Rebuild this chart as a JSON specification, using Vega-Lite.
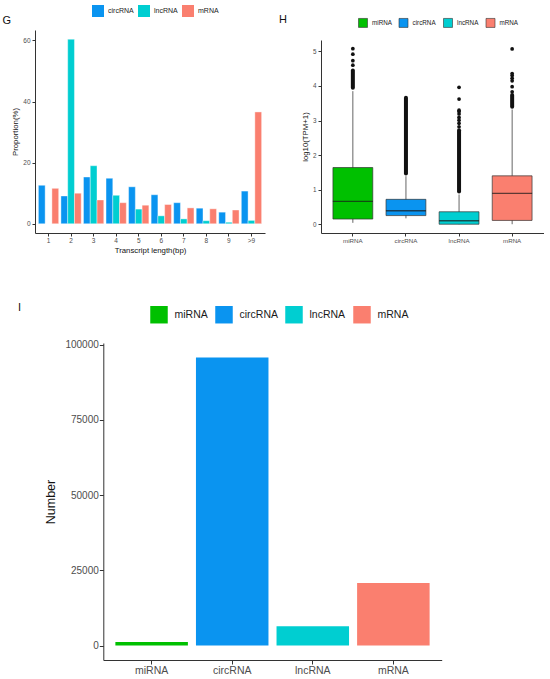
{
  "$schema": "https://vega.github.io/schema/vega-lite/v6.json",
  "padding": {"left": 2, "top": 5, "right": 0, "bottom": 0},
  "background": "white",
  "config": {
    "font": "Liberation Sans",
    "view": {"stroke": null},
    "axis": {"grid": false, "domainColor": "#333333", "tickColor": "#333333", "labelColor": "#4d4d4d", "titleColor": "#111111", "titleFontWeight": "normal", "domainWidth": 1, "tickWidth": 1},
    "title": {"fontWeight": "normal", "anchor": "start", "frame": "group", "color": "#111111", "baseline": "middle"},
    "legend": {"title": null, "orient": "none", "direction": "horizontal", "symbolType": "square", "labelColor": "#1a1a1a", "padding": 0, "symbolStrokeWidth": 0}
  },
  "datasets": {
    "len": [
      {"bin": "1", "type": "circRNA", "pct": 12.6}, {"bin": "1", "type": "lncRNA", "pct": 0}, {"bin": "1", "type": "mRNA", "pct": 11.6},
      {"bin": "2", "type": "circRNA", "pct": 9.1}, {"bin": "2", "type": "lncRNA", "pct": 60.4}, {"bin": "2", "type": "mRNA", "pct": 10.0},
      {"bin": "3", "type": "circRNA", "pct": 15.3}, {"bin": "3", "type": "lncRNA", "pct": 19.0}, {"bin": "3", "type": "mRNA", "pct": 7.8},
      {"bin": "4", "type": "circRNA", "pct": 14.9}, {"bin": "4", "type": "lncRNA", "pct": 9.3}, {"bin": "4", "type": "mRNA", "pct": 6.9},
      {"bin": "5", "type": "circRNA", "pct": 12.1}, {"bin": "5", "type": "lncRNA", "pct": 4.8}, {"bin": "5", "type": "mRNA", "pct": 6.1},
      {"bin": "6", "type": "circRNA", "pct": 9.5}, {"bin": "6", "type": "lncRNA", "pct": 2.6}, {"bin": "6", "type": "mRNA", "pct": 6.3},
      {"bin": "7", "type": "circRNA", "pct": 6.9}, {"bin": "7", "type": "lncRNA", "pct": 1.6}, {"bin": "7", "type": "mRNA", "pct": 5.2},
      {"bin": "8", "type": "circRNA", "pct": 5.1}, {"bin": "8", "type": "lncRNA", "pct": 1.0}, {"bin": "8", "type": "mRNA", "pct": 4.9},
      {"bin": "9", "type": "circRNA", "pct": 3.8}, {"bin": "9", "type": "lncRNA", "pct": 0.5}, {"bin": "9", "type": "mRNA", "pct": 4.5},
      {"bin": ">9", "type": "circRNA", "pct": 10.7}, {"bin": ">9", "type": "lncRNA", "pct": 1.1}, {"bin": ">9", "type": "mRNA", "pct": 36.6}
    ],
    "box": [
      {"type": "miRNA", "lo": 0.04, "q1": 0.15, "med": 0.66, "q3": 1.64, "hi": 3.85},
      {"type": "circRNA", "lo": 0.17, "q1": 0.25, "med": 0.39, "q3": 0.72, "hi": 1.39},
      {"type": "lncRNA", "lo": 0.0, "q1": 0.0, "med": 0.10, "q3": 0.36, "hi": 0.86},
      {"type": "mRNA", "lo": 0.0, "q1": 0.11, "med": 0.89, "q3": 1.40, "hi": 3.32}
    ],
    "dense": [
      {"type": "miRNA", "from": 3.95, "to": 4.45},
      {"type": "circRNA", "from": 1.47, "to": 3.66},
      {"type": "lncRNA", "from": 0.95, "to": 2.72},
      {"type": "mRNA", "from": 3.4, "to": 3.74}
    ],
    "out": [
      {"type": "miRNA", "v": 4.6}, {"type": "miRNA", "v": 4.73}, {"type": "miRNA", "v": 4.92}, {"type": "miRNA", "v": 5.08},
      {"type": "lncRNA", "v": 2.82}, {"type": "lncRNA", "v": 2.92}, {"type": "lncRNA", "v": 3.01}, {"type": "lncRNA", "v": 3.09},
      {"type": "lncRNA", "v": 3.19}, {"type": "lncRNA", "v": 3.26}, {"type": "lncRNA", "v": 3.3}, {"type": "lncRNA", "v": 3.62}, {"type": "lncRNA", "v": 3.96},
      {"type": "mRNA", "v": 3.83}, {"type": "mRNA", "v": 3.98}, {"type": "mRNA", "v": 4.15}, {"type": "mRNA", "v": 4.22},
      {"type": "mRNA", "v": 4.3}, {"type": "mRNA", "v": 4.36}, {"type": "mRNA", "v": 5.07}
    ],
    "count": [
      {"type": "miRNA", "n": 1200},
      {"type": "circRNA", "n": 95800},
      {"type": "lncRNA", "n": 6400},
      {"type": "mRNA", "n": 20800}
    ]
  },
  "spacing": 48,
  "resolve": {"scale": {"color": "independent", "x": "independent", "y": "independent"}, "legend": {"color": "independent"}},
  "vconcat": [
    {
      "spacing": 14,
      "resolve": {"scale": {"color": "independent", "x": "independent", "y": "independent"}, "legend": {"color": "independent"}},
      "hconcat": [
        {
          "data": {"name": "len"},
          "width": 230,
          "height": 203,
          "title": {"text": "G", "fontSize": 11, "dx": -32.5, "offset": -21.3},
          "mark": {"type": "bar", "stroke": "white", "strokeWidth": 0.4},
          "encoding": {
            "x": {
              "field": "bin", "type": "ordinal",
              "sort": ["1", "2", "3", "4", "5", "6", "7", "8", "9", ">9"],
              "scale": {"paddingInner": 0.1, "paddingOuter": 0.15},
              "axis": {"title": "Transcript length(bp)", "labelAngle": 0, "labelFontSize": 6.5, "titleFontSize": 7.8, "tickSize": 3, "labelPadding": 1.5, "titlePadding": 2}
            },
            "xOffset": {"field": "type", "sort": ["circRNA", "lncRNA", "mRNA"], "scale": {"paddingInner": 0, "paddingOuter": 0}},
            "y": {
              "field": "pct", "type": "quantitative",
              "scale": {"domain": [-3.02, 63.42], "nice": false, "zero": false},
              "axis": {"title": "Proportion(%)", "values": [0, 20, 40, 60], "labelFontSize": 6.5, "titleFontSize": 7.8, "tickSize": 3, "labelPadding": 2, "titlePadding": 3}
            },
            "y2": {"datum": 0},
            "color": {
              "field": "type", "type": "nominal",
              "scale": {"domain": ["circRNA", "lncRNA", "mRNA"], "range": ["#0A94F0", "#00CED1", "#FA7F6F"]},
              "legend": {"legendX": 57, "legendY": -25, "symbolSize": 144, "labelFontSize": 7, "labelOffset": 4, "columnPadding": 4}
            }
          }
        },
        {
          "width": 223,
          "height": 203,
          "title": {"text": "H", "fontSize": 11, "dx": -42, "offset": -7},
          "encoding": {
            "x": {
              "field": "type", "type": "nominal",
              "sort": ["miRNA", "circRNA", "lncRNA", "mRNA"],
              "scale": {"paddingInner": 0.25, "paddingOuter": 0.225},
              "axis": {"title": null, "labelAngle": 0, "labelFontSize": 6.2, "tickSize": 3, "labelPadding": 1.5}
            }
          },
          "layer": [
            {
              "data": {"name": "box"},
              "mark": {"type": "rule", "color": "#555555", "strokeWidth": 0.9},
              "encoding": {
                "y": {
                  "field": "lo", "type": "quantitative", "title": "log10(TPM+1)",
                  "scale": {"domain": [-0.254, 5.33], "range": [203, 10], "nice": false, "zero": false},
                  "axis": {"values": [0, 1, 2, 3, 4, 5], "labelFontSize": 6.3, "titleFontSize": 7.8, "tickSize": 3, "labelPadding": 2, "titlePadding": 3}
                },
                "y2": {"field": "hi"}
              }
            },
            {
              "data": {"name": "dense"},
              "mark": {"type": "rule", "color": "#111111", "strokeWidth": 4, "strokeCap": "round"},
              "encoding": {
                "y": {"field": "from", "type": "quantitative", "title": "log10(TPM+1)"},
                "y2": {"field": "to"}
              }
            },
            {
              "data": {"name": "out"},
              "mark": {"type": "point", "filled": true, "size": 14, "color": "#111111", "opacity": 1},
              "encoding": {
                "y": {"field": "v", "type": "quantitative", "title": "log10(TPM+1)"}
              }
            },
            {
              "data": {"name": "box"},
              "mark": {"type": "bar", "stroke": "#333333", "strokeWidth": 0.7},
              "encoding": {
                "y": {"field": "q1", "type": "quantitative", "title": "log10(TPM+1)"},
                "y2": {"field": "q3"},
                "color": {
                  "field": "type", "type": "nominal",
                  "scale": {"domain": ["miRNA", "circRNA", "lncRNA", "mRNA"], "range": ["#00C000", "#0A94F0", "#00CED1", "#FA7F6F"]},
                  "legend": {"legendX": 37, "legendY": -12.2, "symbolSize": 81, "labelFontSize": 6.3, "labelOffset": 4, "columnPadding": 5.5, "symbolStrokeColor": "#333333", "symbolStrokeWidth": 0.6}
                }
              }
            },
            {
              "data": {"name": "box"},
              "mark": {"type": "tick", "color": "#1a1a1a", "thickness": 1.3, "size": 40},
              "encoding": {
                "y": {"field": "med", "type": "quantitative", "title": "log10(TPM+1)"}
              }
            }
          ]
        }
      ]
    },
    {
      "data": {"name": "count"},
      "width": 407,
      "height": 317,
      "title": {"text": "I", "fontSize": 11, "dx": -17, "offset": -7.5},
      "mark": {"type": "bar"},
      "encoding": {
        "x": {
          "field": "type", "type": "nominal",
          "sort": ["miRNA", "circRNA", "lncRNA", "mRNA"],
          "scale": {"range": [68.3, 406.7], "paddingInner": 0.1, "paddingOuter": 0.15},
          "axis": {"title": null, "labelAngle": 0, "labelFontSize": 10.5, "tickSize": 4, "labelPadding": 1.5}
        },
        "y": {
          "field": "n", "type": "quantitative",
          "scale": {"domain": [-4790, 100590], "nice": false, "zero": false},
          "axis": {"title": "Number", "offset": -68.3, "values": [0, 25000, 50000, 75000, 100000], "format": "d", "labelFontSize": 10, "titleFontSize": 12.5, "tickSize": 4, "labelPadding": 1, "titlePadding": 7}
        },
        "y2": {"datum": 0},
        "color": {
          "field": "type", "type": "nominal",
          "scale": {"domain": ["miRNA", "circRNA", "lncRNA", "mRNA"], "range": ["#00C000", "#0A94F0", "#00CED1", "#FA7F6F"]},
          "legend": {"legendX": 115, "legendY": -37.4, "symbolSize": 306, "labelFontSize": 10.5, "labelOffset": 6.5, "columnPadding": 7}
        }
      }
    }
  ]
}
